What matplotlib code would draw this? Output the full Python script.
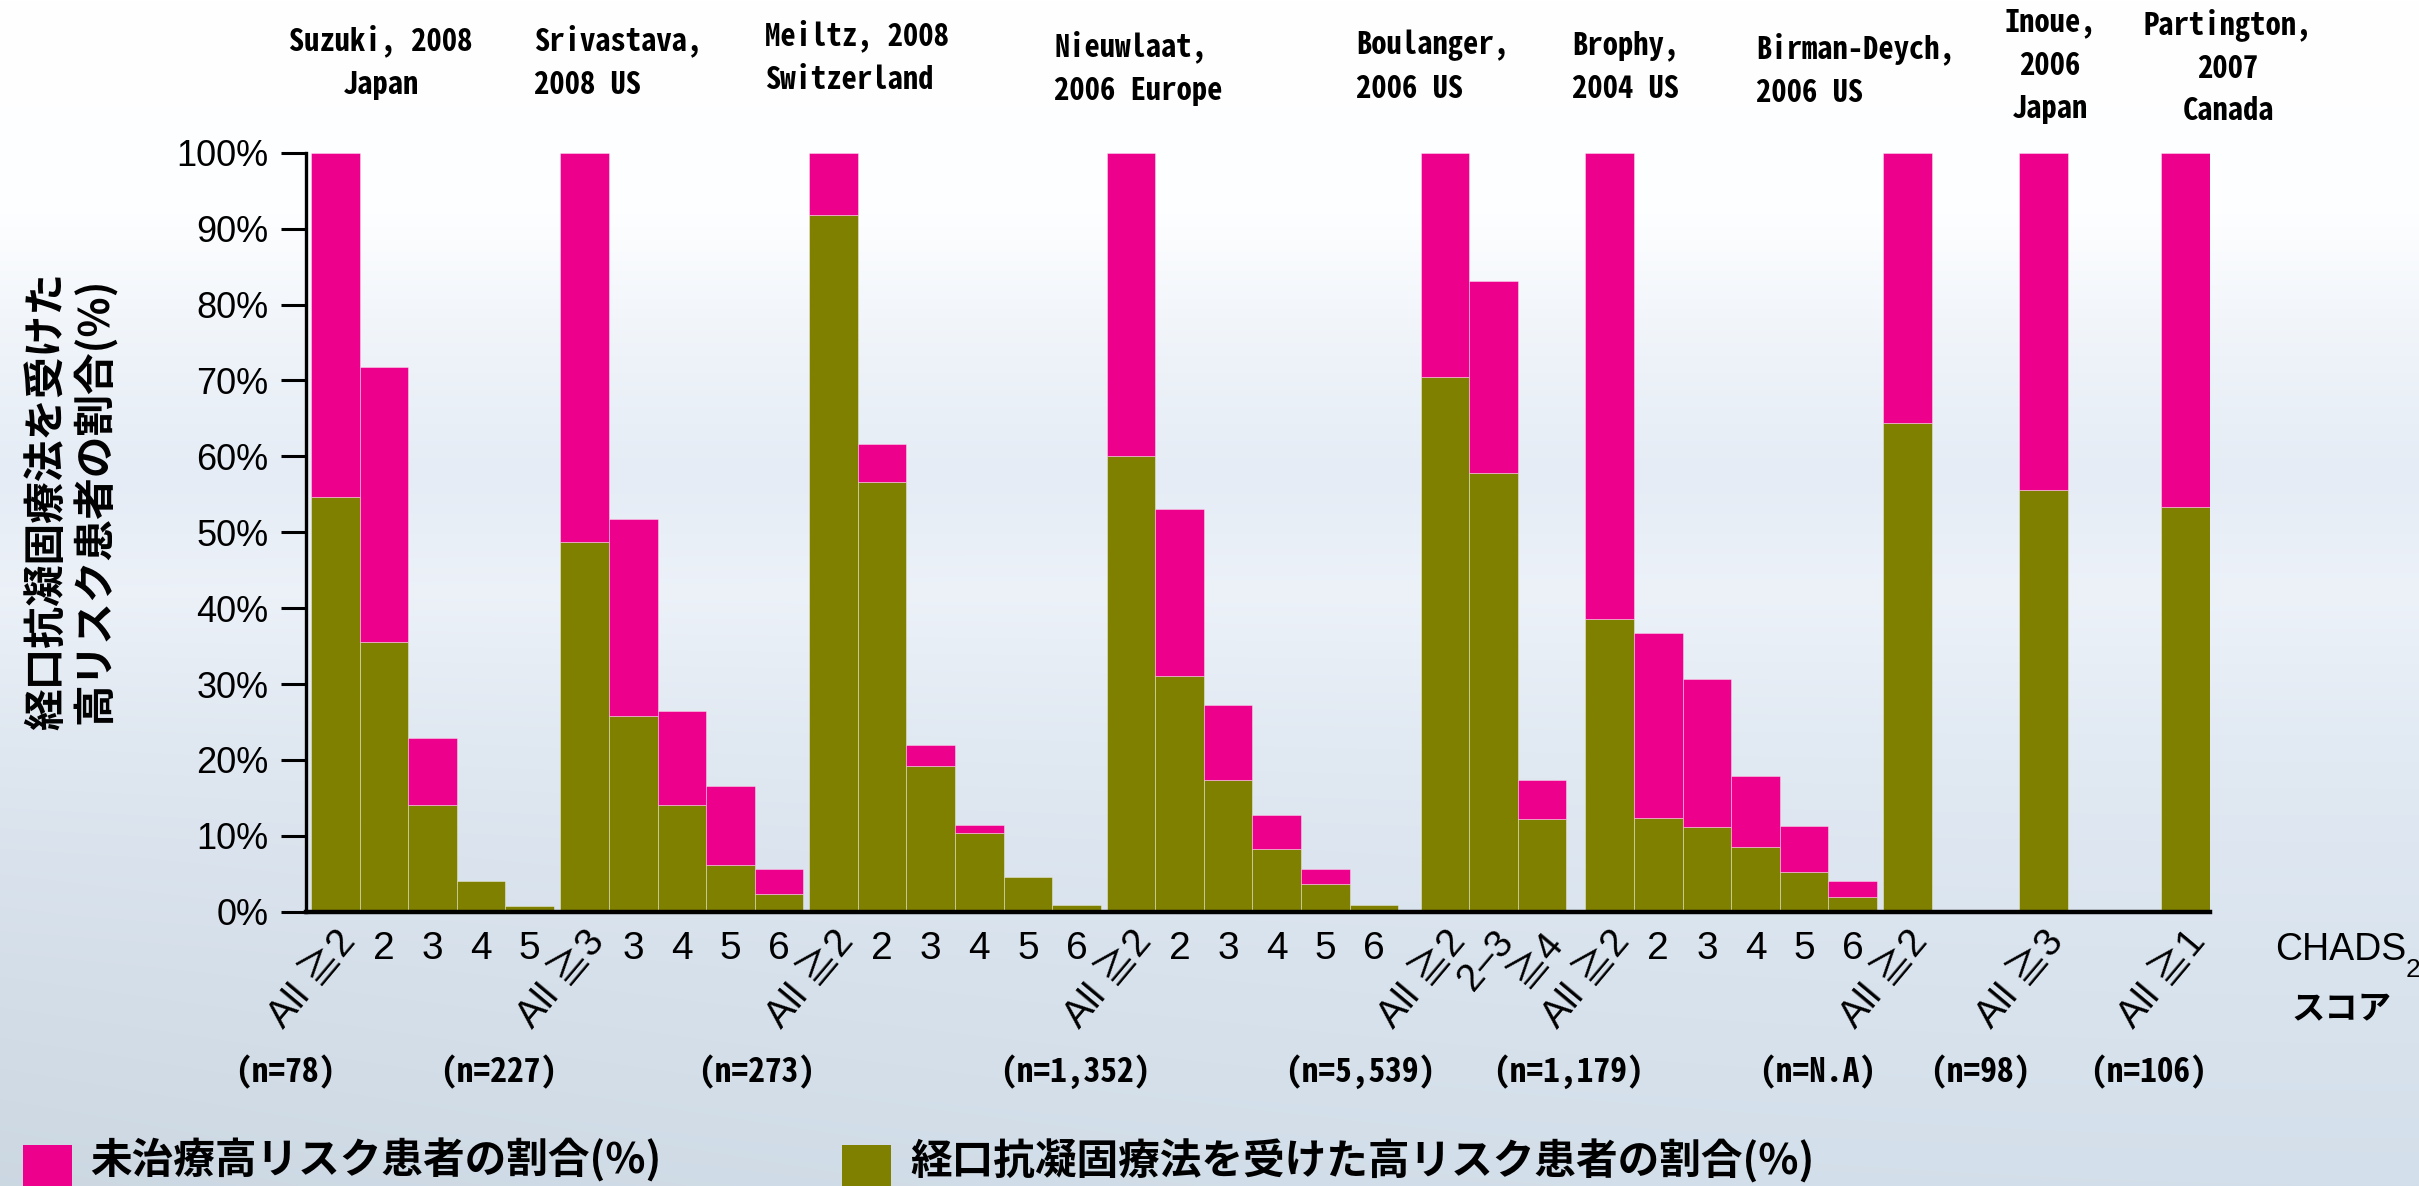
import numpy as np
import matplotlib
matplotlib.use("Agg")
import matplotlib.pyplot as plt
from matplotlib import font_manager as fm
from matplotlib.patches import Rectangle

# ---------------------------------------------------------------- data
studies = [
    "Suzuki, 2008\nJapan", "Srivastava,\n2008 US", "Meiltz, 2008\nSwitzerland",
    "Nieuwlaat,\n2006 Europe", "Boulanger,\n2006 US", "Brophy,\n2004 US",
    "Birman-Deych,\n2006 US", "Inoue,\n2006\nJapan", "Partington,\n2007\nCanada",
]
sample_sizes = ["(n=78)", "(n=227)", "(n=273)", "(n=1,352)", "(n=5,539)",
                "(n=1,179)", "(n=N.A)", "(n=98)", "(n=106)"]
score_groups = [
    ["All ≧2", "2", "3", "4", "5"],
    ["All ≧3", "3", "4", "5", "6"],
    ["All ≧2", "2", "3", "4", "5", "6"],
    ["All ≧2", "2", "3", "4", "5", "6"],
    ["All ≧2", "2–3", "≧4"],
    ["All ≧2", "2", "3", "4", "5", "6"],
    ["All ≧2"],
    ["All ≧3"],
    ["All ≧1"],
]
# share of high-risk patients on oral anticoagulation (%)
treated = [
    [54.7, 35.5, 14.1, 4.1, 0.8],
    [48.7, 25.8, 14.1, 6.2, 2.3],
    [91.8, 56.6, 19.2, 10.4, 4.6, 0.9],
    [60.0, 31.0, 17.3, 8.3, 3.6, 0.9],
    [70.4, 57.8, 12.2],
    [38.6, 12.3, 11.1, 8.5, 5.2, 2.0],
    [64.4],
    [55.5],
    [53.3],
]
# share of untreated high-risk patients (%), stacked on top
untreated = [
    [45.3, 36.2, 8.8, 0.0, 0.0],
    [51.3, 25.9, 12.3, 10.3, 3.3],
    [8.2, 5.0, 2.7, 1.0, 0.0, 0.0],
    [40.0, 22.1, 9.9, 4.4, 2.0, 0.0],
    [29.6, 25.3, 5.2],
    [61.4, 24.4, 19.5, 9.4, 6.1, 2.0],
    [35.6],
    [44.5],
    [46.7],
]
series_names = ["未治療高リスク患者の割合(%)", "経口抗凝固療法を受けた高リスク患者の割合(%)"]
y_label = "経口抗凝固療法を受けた\n高リスク患者の割合(%)"
y_ticks = list(range(0, 101, 10))
axis_title = "CHADS"
axis_title_sub = "2"
axis_title_jp = "スコア"

# ---------------------------------------------------------------- layout
W, H = 2419, 1186
PINK = "#EC008C"
OLIVE = "#808000"
group_gaps = [0.0, 0.13, 0.12, 0.12, 0.46, 0.39, 0.13, 1.80, 1.92]
# header anchors in figure pixels: (x, top y, alignment)
header_pos = [(381, 24, "center"), (534, 24, "left"), (765, 19, "left"),
              (1054, 30, "left"), (1356, 30, "left"), (1572, 30, "left"),
              (1756, 32, "left"), (2050, 8, "center"), (2228, 8, "center")]
n_pos_x = [285, 499, 757, 1075, 1360, 1568, 1818, 1980, 2148]
n_pos_y = 1072


def pick(*names):
    for n in names:
        try:
            fm.findfont(fm.FontProperties(family=n), fallback_to_default=False)
            return n
        except ValueError:
            continue
    return "DejaVu Sans"


GOTHIC = pick("Noto Sans Mono CJK JP", "Liberation Sans Narrow", "Liberation Sans")
SANS = [pick("Liberation Sans", "Arimo", "DejaVu Sans"), "Noto Sans CJK JP", "DejaVu Sans"]
CJK = ["Noto Sans CJK JP", "DejaVu Sans"]

fig = plt.figure(figsize=(W / 100, H / 100), dpi=100)


def fx(px):
    return px / W


def fy(py):
    return 1 - py / H


# soft sky-like backdrop
bg = fig.add_axes([0, 0, 1, 1], zorder=-10)
t = np.linspace(0, 1, H)
stops = [0.0, 0.18, 0.30, 0.40, 0.50, 0.62, 0.80, 1.0]
cols = ["#ffffff", "#fdfeff", "#eef3f9", "#e5ecf5", "#edf2f9", "#e2eaf3", "#dae4ef", "#d3dfea"]
rgb = np.array([matplotlib.colors.to_rgb(c) for c in cols])
col = np.stack([np.interp(t, stops, rgb[:, k]) for k in range(3)], axis=1)
xs = np.linspace(0, 1, W)
shade = 1 - 0.035 * np.outer(np.clip((t - 0.45) / 0.55, 0, 1), (1 - xs) ** 2)
img = col[:, None, :] * shade[:, :, None]
bg.imshow(np.clip(img, 0, 1), aspect="auto", extent=[0, 1, 0, 1], interpolation="bilinear")
bg.axis("off")

ax = fig.add_axes([fx(306), fy(911.7), fx(2210 - 306), (911.7 - 152.7) / H])
ax.patch.set_alpha(0)

x = 0.0
centers = []
for gi, (cats, tr, un) in enumerate(zip(score_groups, treated, untreated)):
    x += group_gaps[gi]
    pos = x + np.arange(len(cats))
    tr = np.asarray(tr)
    un = np.asarray(un)
    ax.bar(pos, tr, width=1.0, align="edge", color=OLIVE,
           edgecolor=(1, 1, 1, 0.45), linewidth=0.6)
    keep = un > 0
    ax.bar(pos[keep], un[keep], bottom=tr[keep], width=1.0, align="edge",
           color=PINK, edgecolor=(1, 1, 1, 0.45), linewidth=0.6)
    centers.append(pos + 0.5)
    x = pos[-1] + 1.0

ax.set_xlim(-0.103, x)
ax.set_ylim(0, 100)
ax.set_yticks(y_ticks)
ax.set_yticklabels([f"{v}%" for v in y_ticks], family=SANS, fontsize=26)
ax.tick_params(axis="y", length=18, width=2.2, pad=9, direction="out", colors="black")
ax.tick_params(axis="x", length=0, labelbottom=False)
for s in ("top", "right"):
    ax.spines[s].set_visible(False)
ax.spines["left"].set_linewidth(2.4)
ax.spines["bottom"].set_linewidth(3.2)

# CHADS2 score labels under each bar
for cats, cs in zip(score_groups, centers):
    for lab, c in zip(cats, cs):
        if lab.isdigit():
            ax.annotate(lab, xy=(c, 0), xycoords=("data", "axes fraction"),
                        xytext=(0, -19), textcoords="offset pixels",
                        ha="center", va="top", fontsize=28, family=SANS)
        else:
            ax.annotate(lab, xy=(c, 0), xycoords=("data", "axes fraction"),
                        xytext=(14, -24), textcoords="offset pixels",
                        ha="right", va="center", rotation=50,
                        rotation_mode="anchor", fontsize=28, family=SANS)

# study headers
for txt, (px, py, ha) in zip(studies, header_pos):
    fig.text(fx(px), fy(py), txt, ha=ha, va="top",
             multialignment="center" if ha == "center" else "left",
             fontsize=22, family=GOTHIC, weight="bold", linespacing=1.5)

# sample sizes
for txt, px in zip(sample_sizes, n_pos_x):
    fig.text(fx(px), fy(n_pos_y), txt, ha="center", va="center", fontsize=24,
             family=GOTHIC, weight="bold")

# axis titles
fig.text(fx(2275), fy(950), axis_title, ha="left", va="center", fontsize=27, family=SANS)
fig.text(fx(2406), fy(970), axis_title_sub, ha="left", va="center", fontsize=19, family=SANS)
fig.text(fx(2342), fy(1010), axis_title_jp, ha="center", va="center", fontsize=24,
         family=CJK, weight="bold")
fig.text(fx(72), fy(501), y_label, ha="center", va="center", rotation=90,
         multialignment="center", fontsize=30, family=CJK, weight="bold", linespacing=1.13)

# legend
for (sx, tx), name, c in zip([(23, 90), (842, 910)], series_names, [PINK, OLIVE]):
    fig.patches.append(Rectangle((fx(sx), fy(1196)), 49 / W, 51 / H, transform=fig.transFigure,
                                 facecolor=c, edgecolor="none"))
    fig.text(fx(tx), fy(1161), name, ha="left", va="center", fontsize=30,
             family=CJK, weight="bold")

fig.savefig("out.png", dpi=100)
